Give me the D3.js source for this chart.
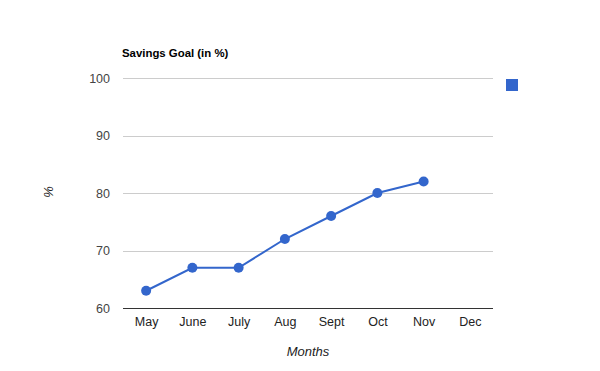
<!DOCTYPE html>
<html><head><meta charset="utf-8">
<script src="https://cdn.jsdelivr.net/npm/d3@7"></script>
<style>body{margin:0;background:#fff}svg{display:block;font-family:Arial,"Liberation Sans",sans-serif}</style>
</head><body><svg id="c" width="600" height="371"></svg>
<script>
const months = ["May","June","July","Aug","Sept","Oct","Nov","Dec"];
const values = [63,67,67,72,76,80,82,null];
const yTicks = [60,70,80,90,100];
const title = "Savings Goal (in %)";
const xTitle = "Months";
const yTitle = "%";
const color = "#3366cc";

const svg = d3.select("#c");
const L=123,R=493,T=78,B=308;
const x = d3.scalePoint().domain(months).range([L,R]).padding(0.5);
const y = d3.scaleLinear().domain([60,100]).range([B,T]);

svg.append("g").selectAll("line").data(yTicks.filter(d=>d!==60)).join("line")
  .attr("x1",L).attr("x2",R).attr("y1",d=>Math.round(y(d))+0.5).attr("y2",d=>Math.round(y(d))+0.5)
  .attr("stroke","#cccccc").attr("stroke-width",1);

const ya = svg.append("g").attr("transform",`translate(${L},0)`)
  .call(d3.axisLeft(y).tickValues(yTicks).tickSize(0).tickPadding(13));
ya.select(".domain").remove();
ya.selectAll("text").attr("font-size",12.5).attr("fill","#444").attr("font-family","Arial,'Liberation Sans',sans-serif");

const xa = svg.append("g").attr("transform",`translate(0,${B})`)
  .call(d3.axisBottom(x).tickSize(0).tickPadding(9));
xa.select(".domain").remove();
xa.selectAll("text").attr("font-size",12.5).attr("fill","#222").attr("font-family","Arial,'Liberation Sans',sans-serif");
svg.append("line").attr("x1",L).attr("x2",R).attr("y1",B+0.5).attr("y2",B+0.5).attr("stroke","#333").attr("stroke-width",1);

const pts = months.map((m,i)=>({m,v:values[i]})).filter(d=>d.v!=null);
svg.append("path").datum(pts)
  .attr("d",d3.line().x(d=>x(d.m)).y(d=>y(d.v)))
  .attr("fill","none").attr("stroke",color).attr("stroke-width",2);
svg.append("g").selectAll("circle").data(pts).join("circle")
  .attr("cx",d=>x(d.m)).attr("cy",d=>y(d.v)).attr("r",5).attr("fill",color);

svg.append("text").attr("x",122).attr("y",57).attr("font-size",11.4).attr("font-weight","bold").attr("fill","#000").text(title);
svg.append("text").attr("x",(L+R)/2).attr("y",356).attr("text-anchor","middle").attr("font-size",13).attr("font-style","italic").attr("fill","#222").text(xTitle);
svg.append("text").attr("transform","translate(53,192) rotate(-90)").attr("text-anchor","middle").attr("font-size",13).attr("font-style","italic").attr("fill","#222").text(yTitle);
svg.append("rect").attr("x",506).attr("y",79).attr("width",12).attr("height",12).attr("fill",color);
</script></body></html>
